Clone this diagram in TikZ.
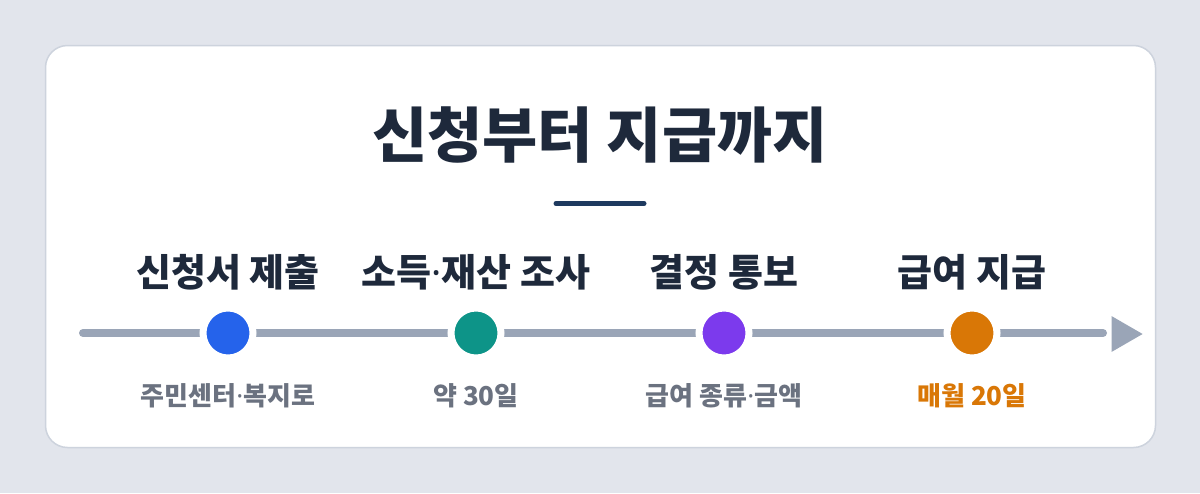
\documentclass[tikz,border=0pt]{standalone}
\usepackage{fontspec}
\usetikzlibrary{shapes.geometric}
\newfontfamily\kr{Noto Sans CJK KR}
\newfontfamily\latn{Noto Sans}
\newcommand{\mdot}{{\latn\bfseries ·}}
\definecolor{bgc}{HTML}{E2E5EC}
\definecolor{cardborder}{HTML}{CDD3DD}
\definecolor{titlec}{HTML}{1E293B}
\definecolor{barc}{HTML}{1E3A5F}
\definecolor{linec}{HTML}{9AA5B7}
\definecolor{subc}{HTML}{6B7280}
\definecolor{c1}{HTML}{2563EB}
\definecolor{c2}{HTML}{0D9488}
\definecolor{c3}{HTML}{7C3AED}
\definecolor{c4}{HTML}{D97706}
\tikzset{
  steplabel/.style={font=\kr\bfseries\fontsize{38}{42}\selectfont, text=titlec, anchor=center, inner sep=0pt},
  sublabel/.style={font=\kr\bfseries\fontsize{26}{30}\selectfont, text=subc, anchor=center, inner sep=0pt},
  dot/.style={circle, minimum size=50pt, inner sep=0pt, draw=white, line width=7pt},
  seg/.style={draw=linec, line width=8pt, line cap=round}
}
\begin{document}
\begin{tikzpicture}[x=1pt,y=-1pt]
\fill[bgc] (0,0) rectangle (1200,493);
\useasboundingbox (0,0) rectangle (1200,493);
\draw[cardborder, fill=white, line width=1.5pt, rounded corners=22pt] (45.5,45.5) rectangle (1155.5,447.5);
\node[font=\kr\bfseries\fontsize{60}{66}\selectfont, text=titlec, inner sep=0pt] (title) at (600,135) {신청부터 지급까지};
\draw[barc, line width=5pt, line cap=round] (556,203.5) coordinate (b1) -- (644,203.5) coordinate (b2);
% timeline
\coordinate (start) at (83,333);
\coordinate (endl) at (1103,333);
\draw[seg] (start) -- (endl);
\node[fill=linec, isosceles triangle, isosceles triangle apex angle=60, minimum height=31pt, inner sep=0pt, anchor=apex] (tip) at (1143,334) {};
\node[dot, fill=c1] (d1) at (228,333) {};
\node[dot, fill=c2] (d2) at (476,333) {};
\node[dot, fill=c3] (d3) at (724,333) {};
\node[dot, fill=c4] (d4) at (972,333) {};
\node[steplabel] (s1) at (228,272) {신청서 제출};
\node[steplabel] (s2) at (476,272) {소득\mdot 재산 조사};
\node[steplabel] (s3) at (724,272) {결정 통보};
\node[steplabel] (s4) at (972,272) {급여 지급};
\node[sublabel] (t1) at (228,396) {주민센터\mdot 복지로};
\node[sublabel] (t2) at (476,396) {약 30일};
\node[sublabel] (t3) at (724,396) {급여 종류\mdot 금액};
\node[sublabel, text=c4] (t4) at (972,396) {매월 20일};
\end{tikzpicture}
\end{document}
